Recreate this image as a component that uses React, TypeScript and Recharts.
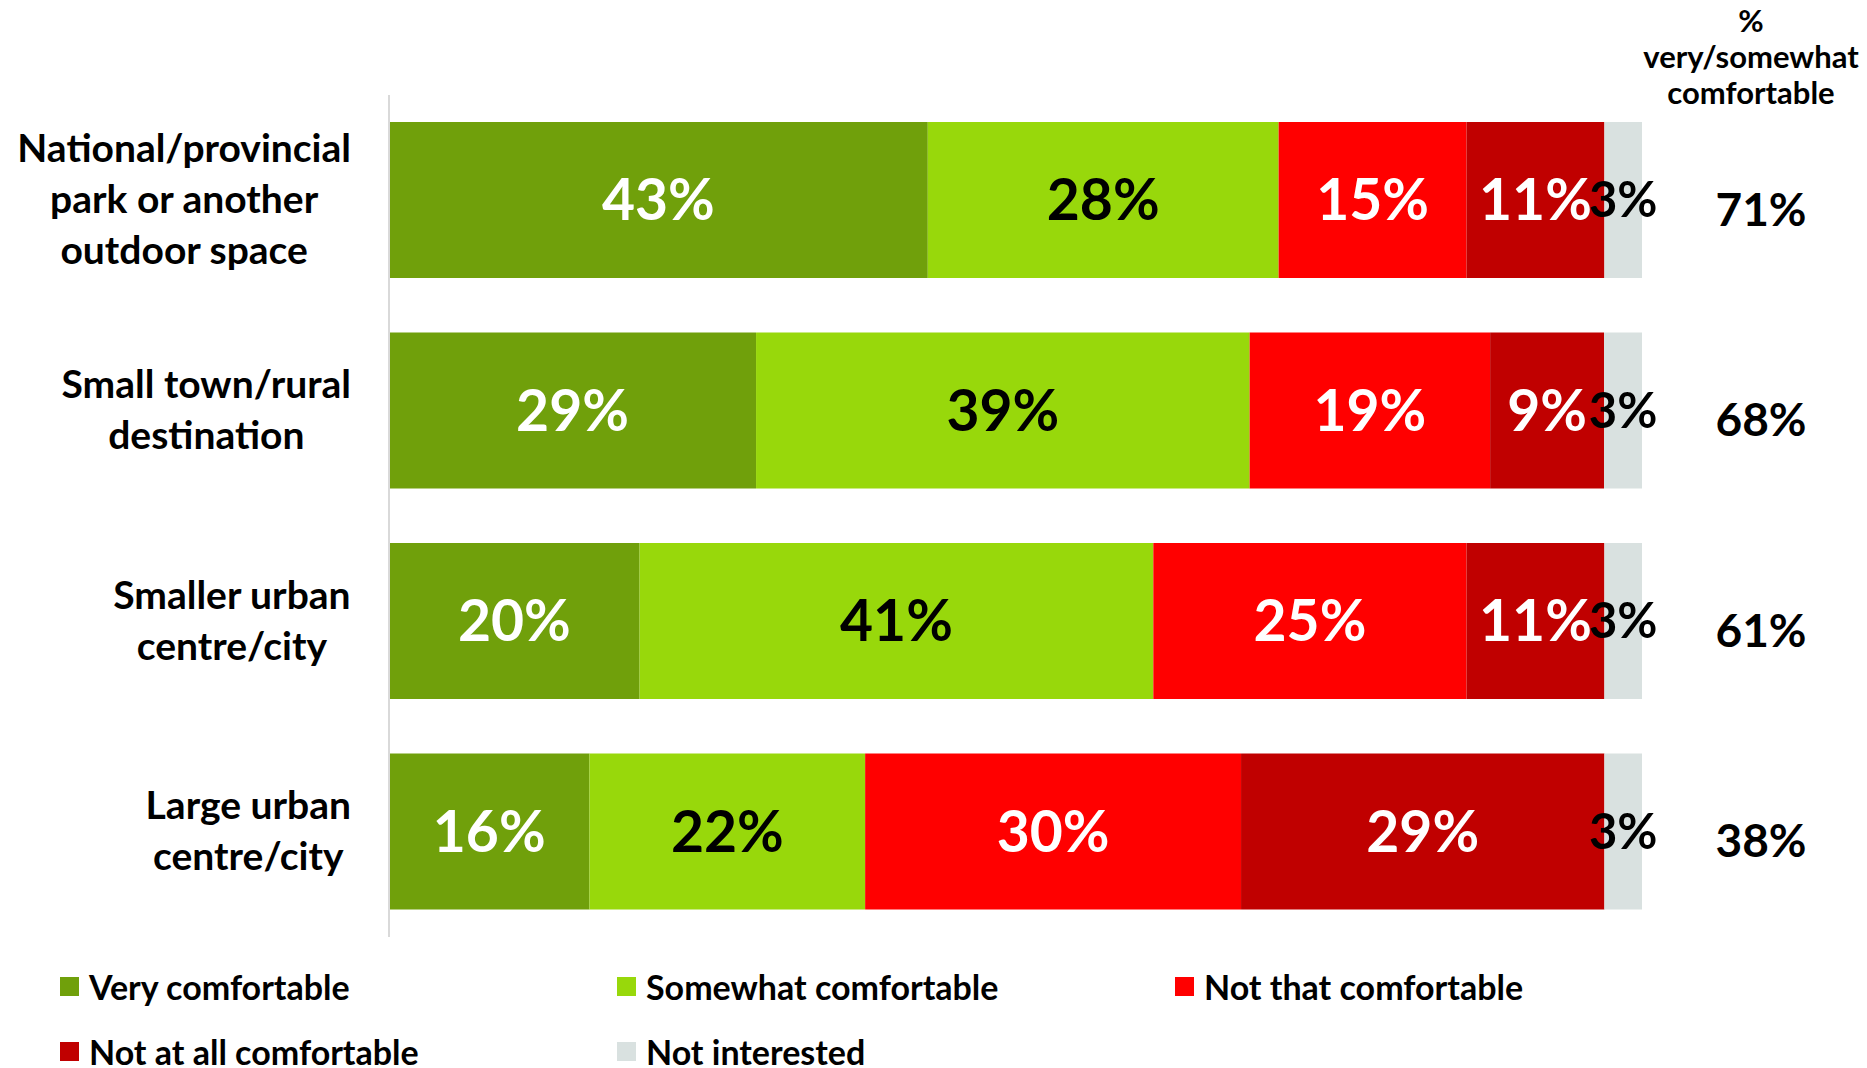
import React from "react";
import { BarChart, Bar, XAxis, YAxis, Legend, LabelList } from "recharts";

// destination types (line breaks as in the original labels)
const categories = [
  "National/provincial\npark or another\noutdoor space",
  "Small town/rural\ndestination",
  "Smaller urban\ncentre/city",
  "Large urban\ncentre/city",
];
const veryComfortable = [43, 29, 20, 16];
const somewhatComfortable = [28, 39, 41, 22];
const notThatComfortable = [15, 19, 25, 30];
const notAtAllComfortable = [11, 9, 11, 29];
const notInterested = [3, 3, 3, 3];
const veryOrSomewhat = [71, 68, 61, 38];

const series = [
  { key: "very", name: "Very comfortable", color: "#70A00B", text: "#fff", size: 57, values: veryComfortable },
  { key: "somewhat", name: "Somewhat comfortable", color: "#98D80B", text: "#000", size: 57, values: somewhatComfortable },
  { key: "notThat", name: "Not that comfortable", color: "#FF0000", text: "#fff", size: 57, values: notThatComfortable },
  { key: "notAtAll", name: "Not at all comfortable", color: "#C00000", text: "#fff", size: 57, values: notAtAllComfortable },
  { key: "notInt", name: "Not interested", color: "#D9E1E0", text: "#000", size: 49, values: notInterested },
];

const data = categories.map((cat, i) => {
  const row: Record<string, any> = { cat, total: veryOrSomewhat[i] };
  series.forEach((s) => (row[s.key] = s.values[i]));
  return row;
});

const FONT = "Lato, 'Open Sans', sans-serif";

const ctx = document.createElement("canvas").getContext("2d");
const measure = (t: string, font: string) => {
  if (!ctx) return t.length * 18;
  ctx.font = font;
  return ctx.measureText(t).width;
};

// multi-line label, each block centred on itself, right-aligned to the axis
function CategoryTick(props: any) {
  const { x, y, payload } = props;
  const lines = String(payload.value).split("\n");
  const size = 39;
  const maxW = Math.max(...lines.map((l) => measure(l, `700 ${size}px Lato`)));
  const cx = x - maxW / 2;
  const lh = 51;
  const top = y - ((lines.length - 1) * lh) / 2 - 2;
  return (
    <g>
      {lines.map((l, i) => (
        <text
          key={i}
          x={cx}
          y={top + i * lh}
          textAnchor="middle"
          dominantBaseline="central"
          fontFamily={FONT}
          fontWeight={700}
          fontSize={size}
          fill="#000"
        >
          {l}
        </text>
      ))}
    </g>
  );
}

function TotalLabel(props: any) {
  const { x, y, width, height, value } = props;
  return (
    <text
      x={Number(x) + Number(width) + 119}
      y={Number(y) + Number(height) / 2 + 8}
      textAnchor="middle"
      dominantBaseline="central"
      fontFamily={FONT}
      fontWeight={700}
      fontSize={46}
      fill="#000"
    >
      {value}%
    </text>
  );
}

function LegendBox() {
  return (
    <div
      style={{
        width: 1867,
        height: 131,
        boxSizing: "border-box",
        paddingTop: 29,
        paddingLeft: 60,
        display: "grid",
        gridTemplateColumns: "557px 558px 557px",
        gridAutoRows: "40px",
        rowGap: 25,
      }}
    >
      {series.map((s) => (
        <div key={s.key} style={{ display: "flex", alignItems: "center" }}>
          <span style={{ width: 19, height: 19, background: s.color, marginRight: 10, flex: "none" }} />
          <span style={{ fontFamily: FONT, fontWeight: 700, fontSize: 34, color: "#000", whiteSpace: "nowrap" }}>
            {s.name}
          </span>
        </div>
      ))}
    </div>
  );
}

export default function App() {
  return (
    <div style={{ position: "absolute", left: 0, top: 0, width: 1867, height: 1068, background: "#fff" }}>
      <div
        style={{
          position: "absolute",
          left: 1751 - 150,
          top: 2,
          width: 300,
          textAlign: "center",
          fontFamily: FONT,
          fontWeight: 700,
          fontSize: 31,
          lineHeight: "36px",
          color: "#000",
        }}
      >
        %<br />
        very/somewhat
        <br />
        comfortable
      </div>
      <BarChart
        width={1867}
        height={1068}
        data={data}
        layout="vertical"
        stackOffset="expand"
        barSize={156}
        margin={{ top: 95, right: 225, bottom: 0, left: 0 }}
      >
        <XAxis type="number" hide domain={[0, 1]} />
        <YAxis
          type="category"
          dataKey="cat"
          width={389}
          axisLine={{ stroke: "#D9D9D9", strokeWidth: 2 }}
          tickLine={false}
          tickSize={0}
          tickMargin={38}
          tick={<CategoryTick />}
          interval={0}
        />
        <Legend
          verticalAlign="bottom"
          content={() => <LegendBox />}
          wrapperStyle={{ left: 0, top: 937, bottom: "auto", width: 1867, height: 131 }}
        />
        {series.map((s, idx) => (
          <Bar key={s.key} dataKey={s.key} name={s.name} stackId="a" fill={s.color} isAnimationActive={false}>
            <LabelList
              dataKey={s.key}
              position="center"
              formatter={(v: any) => `${v}%`}
              fill={s.text}
              fontSize={s.size}
              fontWeight={700}
              fontFamily={FONT}
            />
            {idx === series.length - 1 && <LabelList dataKey="total" content={<TotalLabel />} />}
          </Bar>
        ))}
      </BarChart>
    </div>
  );
}
